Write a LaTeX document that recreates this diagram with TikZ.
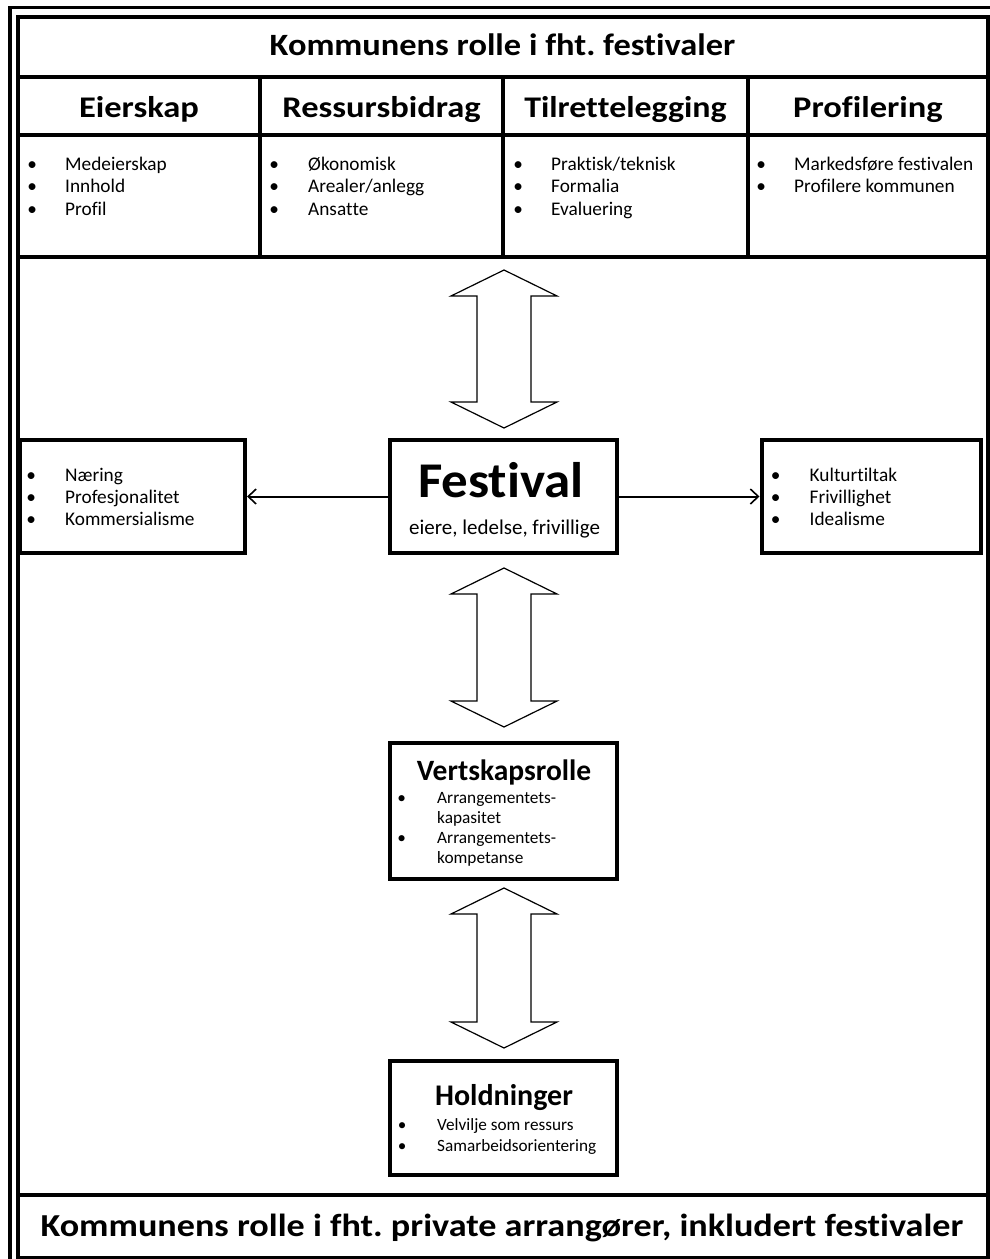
\documentclass[tikz,border=0pt]{standalone}
\usepackage{fontspec}
\usepackage{graphicx}
\setmainfont{Carlito}[Ligatures={NoCommon,NoDiscretionary,NoContextual}]
\usetikzlibrary{arrows.meta}
\frenchspacing
\newcommand{\nk}{\kern0pt }
\newcommand{\dblarrow}[3]{%
  \draw[blockarrow] (#1,#2) -- (#1+53,#2+26) -- (#1+27,#2+26) -- (#1+27,#3-26) -- (#1+53,#3-26) -- (#1,#3) -- (#1-53,#3-26) -- (#1-27,#3-26) -- (#1-27,#2+26) -- (#1-53,#2+26) -- cycle;}
\newcommand{\bitem}[2]{\makebox[0pt][c]{\textbullet}\hspace{#1pt}#2}
\begin{document}
\begin{tikzpicture}[x=1pt,y=-1pt,
  frame/.style={line width=4pt},
  box/.style={draw,line width=4pt,inner sep=0pt},
  blockarrow/.style={draw,line width=1.2pt,fill=white,line join=miter},
  link/.style={line width=2pt,-{Straight Barb[length=8pt,width=15pt,line width=1.6pt]}},
  txt/.style={inner sep=0pt,anchor=base west},
  ctxt/.style={inner sep=0pt,anchor=base},
  titlefont/.style={font=\fontsize{31}{35}\selectfont\bfseries},
  headfont/.style={font=\fontsize{30}{34}\selectfont\bfseries},
  bodyfont/.style={font=\fontsize{19.3}{22.7}\selectfont},
  sidefont/.style={font=\fontsize{19.3}{22}\selectfont},
  smallfont/.style={font=\fontsize{17.3}{20.3}\selectfont},
]
\useasboundingbox (0,0) rectangle (989,1259);
\fill[white] (0,0) rectangle (989,1259);
% outer double frame
\draw[line width=3.5pt] (10,1262) -- (10,7.5) -- (992,7.5);
\draw[frame] (18,16.5) rectangle (988,1258);
% table grid
\draw[frame] (18,77) -- (988,77);
\draw[frame] (18,135) -- (988,135);
\draw[frame] (18,257) -- (988,257);
\draw[frame] (260,77) -- (260,257);
\draw[frame] (503,77) -- (503,257);
\draw[frame] (748,77) -- (748,257);
\draw[frame] (18,1195) -- (988,1195);

% titles
\node[ctxt,titlefont] (title) at (502.5,55) {\scalebox{1.11}[1]{Kommunens rolle i fht. fest\nk ivaler}};
\node[ctxt,font=\fontsize{32}{36}\selectfont\bfseries] (bottomtitle) at (502,1236) {\scalebox{1.13}[1]{Kommunens rolle i fht. private arrangører, inkludert fest\nk ivaler}};

% headers
\node[ctxt,headfont] (h1) at (139,117) {\scalebox{1.15}[1]{Eierskap}};
\node[ctxt,headfont] (h2) at (381.5,117) {\scalebox{1.15}[1]{Ressursbidrag}};
\node[ctxt,headfont] (h3) at (625.5,117) {\scalebox{1.13}[1]{Tilret\nk telegging}};
\node[ctxt,headfont] (h4) at (868,117) {\scalebox{1.15}[1]{Profilering}};

% top lists
\node[txt,bodyfont] (l1) at (32,170) {\begin{tabular}[t]{@{}l@{}}\bitem{33}{Medeierskap}\\\bitem{33}{Innhold}\\\bitem{33}{Profil}\end{tabular}};
\node[txt,bodyfont] (l2) at (274,170) {\begin{tabular}[t]{@{}l@{}}\bitem{34}{Økonomisk}\\\bitem{34}{Arealer/anlegg}\\\bitem{34}{Ansat\nk te}\end{tabular}};
\node[txt,bodyfont] (l3) at (518,170) {\begin{tabular}[t]{@{}l@{}}\bitem{33}{Praktisk/teknisk}\\\bitem{33}{Formalia}\\\bitem{33}{Evaluering}\end{tabular}};
\node[txt,bodyfont] (l4) at (761,170) {\begin{tabular}[t]{@{}l@{}}\bitem{33}{Markedsføre fest\nk ivalen}\\\bitem{33}{Profilere kommunen}\end{tabular}};

% middle boxes
\node[box,minimum width=225,minimum height=113] (lbox) at (132.5,496.5) {};
\node[box,minimum width=227,minimum height=113] (fest) at (503.5,496.5) {};
\node[box,minimum width=219,minimum height=113] (rbox) at (871,496.5) {};

\node[txt,sidefont] (ltext) at (31,481) {\begin{tabular}[t]{@{}l@{}}\bitem{34}{Næring}\\\bitem{34}{Profesjonalitet}\\\bitem{34}{Kommersialisme}\end{tabular}};
\node[txt,sidefont] (rtext) at (775.5,481) {\begin{tabular}[t]{@{}l@{}}\bitem{34}{Kulturt\nk il\nk t\nk ak}\\\bitem{34}{Frivillighet}\\\bitem{34}{Idealisme}\end{tabular}};

\node[ctxt,font=\fontsize{50}{56}\selectfont\bfseries] (festtitle) at (501,497) {\scalebox{1.06}[1]{Fest\nk ival}};
\node[ctxt,font=\fontsize{21}{24}\selectfont] (festsub) at (504.5,534) {eiere, ledelse, frivillige};

\draw[link] (fest.west) -- (lbox.east);
\draw[link] (fest.east) -- (rbox.west);

% vertskapsrolle
\node[box,minimum width=227,minimum height=136] (vert) at (503.5,811) {};
\node[ctxt,font=\fontsize{29.5}{34}\selectfont\bfseries] (verttitle) at (504,780) {Vertskapsrolle};
\node[txt,smallfont] (verttext) at (401.5,803) {\begin{tabular}[t]{@{}l@{}}\bitem{35.5}{Arrangementets-}\\\hspace{35.5pt}kapasitet\\\bitem{35.5}{Arrangementets-}\\\hspace{35.5pt}kompetanse\end{tabular}};

% holdninger
\node[box,minimum width=227,minimum height=114] (hold) at (503.5,1118) {};
\node[ctxt,font=\fontsize{30}{34}\selectfont\bfseries] (holdtitle) at (504,1105) {Holdninger};
\node[txt,font=\fontsize{17.2}{21}\selectfont] (holdtext) at (402,1130) {\begin{tabular}[t]{@{}l@{}}\bitem{35}{Velvilje som ressurs}\\\bitem{35}{Samarbeidsorientering}\end{tabular}};

% block double arrows
\dblarrow{504}{270}{428}
\dblarrow{504}{568}{727}
\dblarrow{504}{888}{1048}
\end{tikzpicture}
\end{document}
